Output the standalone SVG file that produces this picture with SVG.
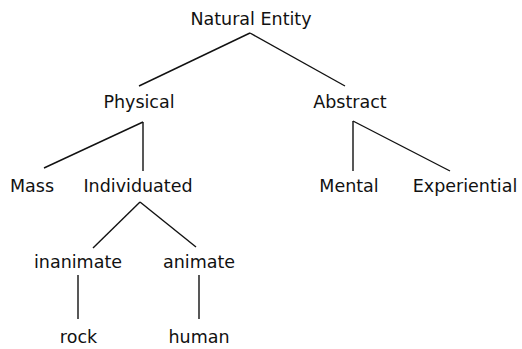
<svg xmlns="http://www.w3.org/2000/svg" width="522" height="349" viewBox="0 0 522 349">
<style>
text{font-family:"DejaVu Sans","Liberation Sans",sans-serif;font-size:17.5px;fill:#111;text-anchor:middle}
line{stroke:#111;stroke-width:1.4}
</style>
<rect width="522" height="349" fill="#fff"/>
<g id="connectors">
<line x1="250" y1="33" x2="139" y2="86"/>
<line x1="250" y1="33" x2="345" y2="86"/>
<line x1="143" y1="122" x2="44" y2="168"/>
<line x1="143" y1="122" x2="143" y2="171"/>
<line x1="353" y1="121" x2="353" y2="171"/>
<line x1="353" y1="121" x2="450" y2="171"/>
<line x1="140" y1="202" x2="93" y2="248"/>
<line x1="140" y1="202" x2="196" y2="247"/>
<line x1="78" y1="275" x2="78" y2="319"/>
<line x1="199" y1="275" x2="199" y2="319"/>
</g>
<g id="natural-entity"><text x="251" y="25">Natural Entity</text></g>
<g id="physical"><text x="139" y="108">Physical</text></g>
<g id="abstract"><text x="350" y="108">Abstract</text></g>
<g id="mass"><text x="32" y="192">Mass</text></g>
<g id="individuated"><text x="138" y="192">Individuated</text></g>
<g id="mental"><text x="349" y="192">Mental</text></g>
<g id="experiential"><text x="465" y="192">Experiential</text></g>
<g id="inanimate"><text x="78" y="268">inanimate</text></g>
<g id="animate"><text x="199" y="268">animate</text></g>
<g id="rock"><text x="78.5" y="343">rock</text></g>
<g id="human"><text x="199" y="343">human</text></g>
</svg>
